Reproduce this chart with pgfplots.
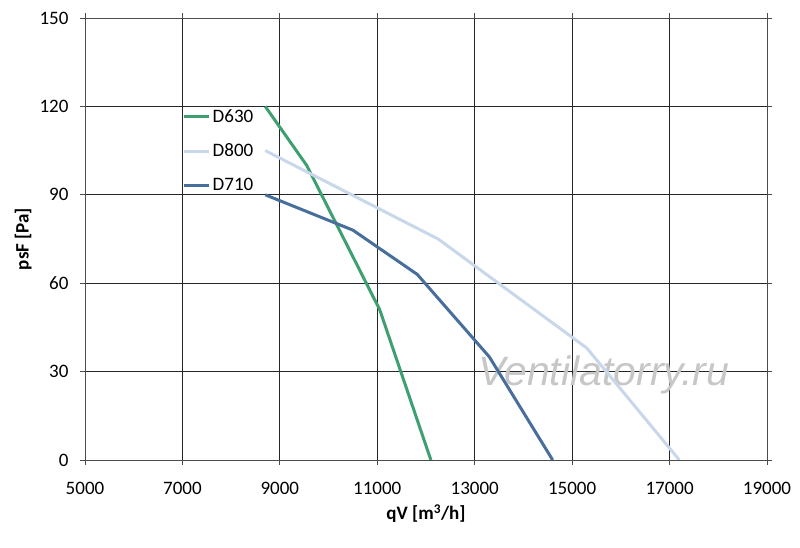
\documentclass[border=0pt]{standalone}
\usepackage{pgfplots}
\pgfplotsset{compat=1.18}
\usepackage{fontspec}
\setmainfont{Carlito}
\newfontfamily\wmfont{Liberation Sans}
\definecolor{cgreen}{RGB}{62,160,112}
\definecolor{clight}{RGB}{200,216,234}
\definecolor{cdark}{RGB}{72,110,156}
\begin{document}
\begin{tikzpicture}
\useasboundingbox (-85pt,-88pt) rectangle (715pt,460pt);
\begin{axis}[
  at={(0pt,0pt)}, anchor=south west,
  scale only axis, width=682pt, height=442pt,
  xmin=5000, xmax=19000, ymin=0, ymax=150,
  xtick={5000,7000,...,19000}, ytick={0,30,...,150},
  scaled x ticks=false, scaled y ticks=false,
  grid=major, grid style={black!85, line width=0.9pt},
  axis line style={black!70, line width=0.9pt},
  x axis line style={black!60},
  tick style={black!70, line width=0.9pt},
  tick align=outside, major tick length=5pt,
  xticklabel style={/pgf/number format/set thousands separator={}},
  /pgf/number format/assume math mode=true,
  ticklabel style={font=\fontsize{19}{22}\selectfont},
  yticklabel style={xshift=-8pt},
  xticklabel style={yshift=-14pt},
  xlabel={\textbf{qV [m\textsuperscript{3}/h]}},
  ylabel={\textbf{psF [Pa]}},
  label style={font=\fontsize{19}{22}\selectfont},
  xlabel style={yshift=-3pt},
  ylabel style={yshift=1pt},
  legend style={at={(0.143,0.798)}, anchor=north west, draw=none, fill=none,
    font=\fontsize{19}{22}\selectfont, row sep=16pt, inner sep=0pt},
  legend cell align=left,
  legend image code/.code={\draw[#1, line width=3pt] (0pt,0pt) -- (25pt,0pt);},
]
\node[text=black!22, font=\wmfont\itshape\fontsize{41}{46}\selectfont, inner sep=0pt]
  at (axis cs:15650,29) {Ventilatorry.ru};
\addplot[cgreen, line width=3pt] coordinates {(8700,120) (9550,100) (11050,51) (12100,0)};
\addlegendentry{D630}
\addplot[clight, line width=3pt] coordinates {(8700,105) (12250,75) (15300,38) (17200,0)};
\addlegendentry{D800}
\addplot[cdark, line width=3pt] coordinates {(8700,90) (10500,78) (11820,63) (13300,35) (14600,0)};
\addlegendentry{D710}
\end{axis}
\end{tikzpicture}
\end{document}
